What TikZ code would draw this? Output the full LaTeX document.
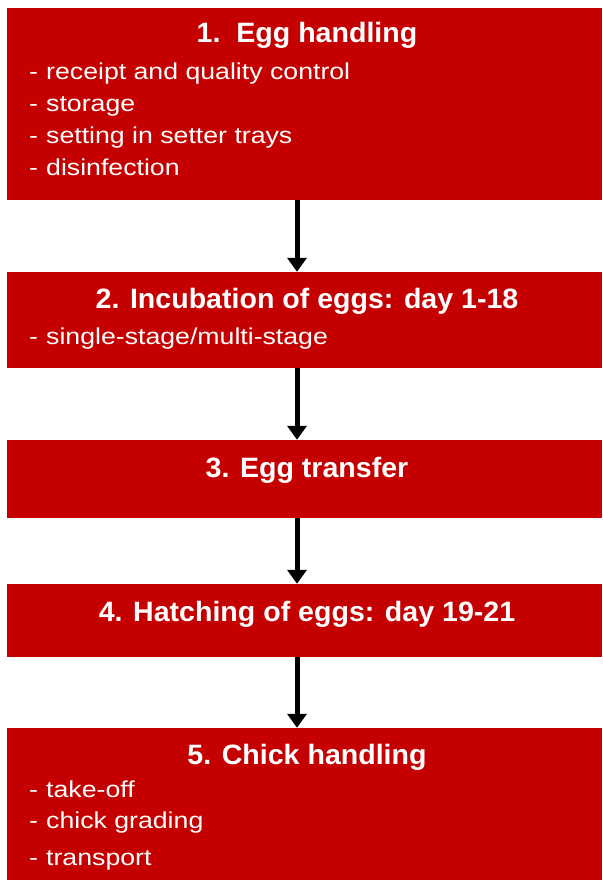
\documentclass[tikz,border=0pt]{standalone}
\usepackage{fontspec}
\setmainfont{Liberation Sans}
\newfontfamily\titlefont[FakeStretch=1.02]{Liberation Sans Bold}
\newfontfamily\bodyfont[FakeStretch=1.16]{Liberation Sans}
\usetikzlibrary{arrows.meta}
\definecolor{boxred}{HTML}{C40000}
\tikzset{
  box/.style={fill=boxred, draw=none, inner sep=0pt, minimum width=595pt},
  ttl/.style={text=white, inner sep=0pt, anchor=base, font=\titlefont\fontsize{28pt}{30pt}\selectfont},
  item/.style={text=white, inner sep=0pt, anchor=base west, font=\bodyfont\fontsize{23pt}{25pt}\selectfont},
  arr/.style={line width=5pt, -{Triangle[width=19pt,length=14pt]}, black},
}
\newcommand{\itm}[1]{\makebox[17pt][l]{-}#1}
\begin{document}
\begin{tikzpicture}[x=1pt,y=-1pt]
\useasboundingbox (0,0) rectangle (602,880);
\node[box, minimum height=192pt] (b1) at (304.5,104) {};
\node[box, minimum height=96pt] (b2) at (304.5,320) {};
\node[box, minimum height=78pt] (b3) at (304.5,479) {};
\node[box, minimum height=73pt] (b4) at (304.5,620.5) {};
\node[box, minimum height=152pt] (b5) at (304.5,804) {};
\coordinate (ax) at (297,0);
\node[ttl] (t1) at (307,43) {1.\ \ Egg handling};
\node[item] (i11) at (29,80) {\itm{receipt and quality control}};
\node[item] (i12) at (29,112) {\itm{storage}};
\node[item] (i13) at (29,143) {\itm{setting in setter trays}};
\node[item] (i14) at (29,175) {\itm{disinfection}};
\node[ttl] (t2) at (307,308) {2. Incubation of eggs: day 1-18};
\node[item] (i21) at (29,344) {\itm{single-stage/multi-stage}};
\node[ttl] (t3) at (307,477) {3. Egg transfer};
\node[ttl] (t4) at (307,621) {4. Hatching of eggs: day 19-21};
\node[ttl] (t5) at (307,764) {5. Chick handling};
\node[item] (i51) at (29,797) {\itm{take-off}};
\node[item] (i52) at (29,828) {\itm{chick grading}};
\node[item] (i53) at (29,865) {\itm{transport}};
\draw[arr] (b1.south -| ax) -- (b2.north -| ax);
\draw[arr] (b2.south -| ax) -- (b3.north -| ax);
\draw[arr] (b3.south -| ax) -- (b4.north -| ax);
\draw[arr] (b4.south -| ax) -- (b5.north -| ax);
\end{tikzpicture}
\end{document}
